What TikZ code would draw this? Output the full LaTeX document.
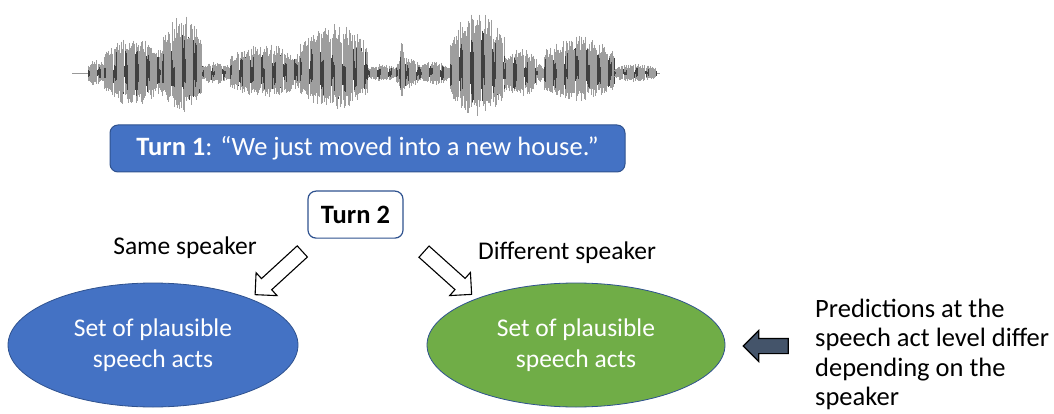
\documentclass[tikz,border=0pt]{standalone}
\usepackage{fontspec}
\setmainfont{Carlito}
\usepackage{tikz}
\usetikzlibrary{shapes.geometric, shapes.arrows, arrows.meta, positioning}

\definecolor{pptblue}{HTML}{4472C4}
\definecolor{pptgreen}{HTML}{70AD47}
\definecolor{pptedge}{HTML}{2F528F}
\definecolor{pptslate}{HTML}{44546A}

\begin{document}
\begin{tikzpicture}[
  x=1pt, y=-1pt,
  node distance=18pt and 20pt,
  turnbox/.style={rectangle, rounded corners=8pt, minimum height=47pt,
             align=center, inner sep=0pt, font=\fontsize{26.5}{30}\selectfont},
  turnonebox/.style={turnbox, fill=pptblue, draw=pptedge, line width=1pt,
             text=white, minimum width=515pt},
  turntwobox/.style={turnbox, fill=white, draw=pptedge, line width=1.2pt,
             minimum width=95pt},
  actellipse/.style={ellipse, draw=pptedge, line width=0.8pt, text=white,
             minimum width=290pt, minimum height=124pt, align=center,
             inner sep=0pt, font=\fontsize{25.5}{31}\selectfont},
  blockarrow/.style={single arrow, draw=black, line width=1.1pt, fill=white,
             minimum height=64pt, minimum width=30pt, inner sep=7pt,
             single arrow head extend=8pt, single arrow tip angle=90},
  darkarrow/.style={blockarrow, fill=pptslate, minimum height=45pt},
  label/.style={font=\fontsize{25.5}{29.5}\selectfont, inner sep=0pt},
  wave/.style={line width=0.7pt}
]
\useasboundingbox (0,0) rectangle (1054,414);

% waveform
\draw[black!40, line width=0.6pt] (72,73) -- (660,73);
\pgfmathsetseed{11}
\foreach \a/\b/\u/\d in {88/104/14/14, 104/162/36/33, 162/202/58/40,
    202/230/11/11, 230/300/29/25, 300/368/50/37, 368/396/9/9,
    396/420/15/15, 399/405/31/27, 420/450/12/12, 450/504/62/43,
    504/536/25/25, 536/544/9/9, 544/614/37/28, 614/656/9/9} {
  \pgfmathsetmacro\nx{\a+1.1}
  \foreach \x in {\a,\nx,...,\b} {
    \pgfmathsetmacro\env{0.6+0.4*sin(180*(\x-\a)/(\b-\a+0.01))}
    \pgfmathsetmacro\top{73-\u*\env*(0.6+0.4*rnd)}
    \pgfmathsetmacro\bot{73+\d*\env*(0.6+0.4*rnd)}
    \pgfmathsetmacro\itop{73-\u*\env*(0.1+0.6*rnd)}
    \pgfmathsetmacro\ibot{73+\d*\env*(0.1+0.6*rnd)}
    \draw[wave, black!38] (\x,\top) -- (\x,\bot);
    \draw[wave, black!75, line width=0.45pt] (\x+0.55,\itop) -- (\x+0.55,\ibot);
  }
}

\node[turnonebox] (turn1) at (367.5,148.5)
  {\textbf{Turn 1}: “We just moved into a new house.”};
\node[turntwobox, below=18pt of turn1, xshift=-12pt] (turn2) {\textbf{Turn 2}};

\node[actellipse, fill=pptblue] (same) at (153,345) {Set of plausible\\speech acts};
\node[actellipse, fill=pptgreen, minimum width=298pt] (diff) at (576,345)
  {Set of plausible\\speech acts};

\node[blockarrow, rotate=222.5] (sameArrow) at (281.5,270.5) {};
\node[blockarrow, rotate=-41.9] (diffArrow) at (445,270.5) {};
\node[label] (sameLbl) at (185,248) {Same speaker};
\node[label] (diffLbl) at (567,253) {Different speaker};

\node[label, anchor=west, align=left, font=\fontsize{26.5}{29.5}\selectfont]
  (note) at (815,354.5)
  {Predictions at the\\speech act level differ\\depending on the\\speaker};
\node[darkarrow, rotate=180] (noteArrow) at (769.5,346) {};

\end{tikzpicture}
\end{document}
